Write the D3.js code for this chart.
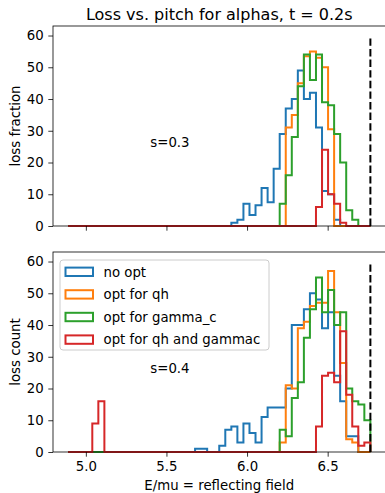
<!DOCTYPE html>
<html>
<head>
<meta charset="utf-8">
<script src="https://cdn.jsdelivr.net/npm/d3@7"></script>
<style>
body { margin: 0; background: #fff; }
svg { display: block; font-family: "DejaVu Sans", sans-serif; }
.axis text { font-size: 13.3px; fill: #000; font-family: "DejaVu Sans", sans-serif; }
.axis path { display: none; }
.axis line { stroke: #000; stroke-width: 0.8; }
</style>
</head>
<body>
<script>
// bins shared by all histograms
const binStart = 4.89;
const binEnd = 6.765;
const nBins = 50;
const cutoff = 6.765;   // dashed line position
const cutoffTop = 60;

const seriesNames = ['no opt', 'opt for qh', 'opt for gamma_c', 'opt for qh and gammac'];
const colors = ['#1f77b4', '#ff7f0e', '#2ca02c', '#d62728'];

const xTicks = [5.0, 5.5, 6.0, 6.5];
const yTicks = [0, 10, 20, 30, 40, 50, 60];

// s = 0.3 (top panel), counts per bin
const top_noopt = [0,0,0,0,0,0,0,0,0,0, 0,0,0,0,0,0,0,0,0,0, 0,0,0,0,0,0,0,1,2,7,
    3.5,6.5,12,7.5,18,29,37,40,49,40, 42,31,11,10,2,0,0,0,0,0];
const top_qh = [0,0,0,0,0,0,0,0,0,0, 0,0,0,0,0,0,0,0,0,0, 0,0,0,0,0,0,0,0,0,0,
    0,0,0,0,0,0,31,35,45,53.5, 55,53,50,30.5,0,0,0,0,0,0];
const top_gamma = [0,0,0,0,0,0,0,0,0,0, 0,0,0,0,0,0,0,0,0,0, 0,0,0,0,0,0,0,0,0,0,
    0,0,0,0,0,7,16,28,44,54, 46,54,39,38,29,20,5,2,0,0];
const top_both = [0,0,0,0,0,0,0,0,0,0, 0,0,0,0,0,0,0,0,0,0, 0,0,0,0,0,0,0,0,0,0,
    0,0,0,0,0,0,0,0,0,0, 0,6,24,10,7,1,0,0,0,0];

// s = 0.4 (bottom panel)
const bot_noopt = [0,0,0,0,0,0,0,0,0,0, 0,0,0,0,0,0,0,0,0,0, 0,1,1,0,0,2,7,8,3,9,
    6,3,11,14,14,14,20,40,40,45, 50,48,39,44,24,16,5,5,0,0];
const bot_qh = [0,0,0,0,0,0,0,0,0,0, 0,0,0,0,0,0,0,0,0,0, 0,0,0,0,0,0,0,0,0,0,
    0,0,0,0,0,3,21,20,39,41, 46,47,47,57,44,28,4,3,0,0];
const bot_gamma = [0,0,0,0,0,0,0,0,0,0, 0,0,0,0,0,0,0,0,0,0, 0,0,0,0,0,0,0,0,0,0,
    0,0,0,0,0,7,5,17,22,36, 45,55,44,51,40,44,20,16,15,10];
const bot_both = [0,0,0,0,9,16,0,0,0,0, 0,0,0,0,0,0,0,0,0,0, 0,0,0,0,0,0,0,0,0,0,
    0,0,0,0,0,0,0,0,0,0, 0,8,24,25,22,38,18,8,2,3];

const panels = [
    {top: 26, bottom: 226, ylabel: 'loss fraction', note: 's=0.3', series: [top_noopt, top_qh, top_gamma, top_both], xlabels: false, legend: false},
    {top: 252, bottom: 452, ylabel: 'loss count', note: 's=0.4', series: [bot_noopt, bot_qh, bot_gamma, bot_both], xlabels: true, legend: true}
];

const width = 385, height = 493;
const left = 53, right = 385.5;

const edges = d3.range(nBins + 1).map(i => binStart + i * (binEnd - binStart) / nBins);
const span = binEnd - binStart;

const x = d3.scaleLinear()
    .domain([binStart - 0.05 * span, binEnd + 0.05 * span])
    .range([left, right]);

const svg = d3.select('body').append('svg')
    .attr('width', width)
    .attr('height', height);

function stepPoints(counts) {
    // outline of a step histogram: up at each edge, across the bin, down at the end
    const pts = [[edges[0], 0]];
    counts.forEach((c, i) => pts.push([edges[i], c]));
    pts.push([edges[nBins], counts[nBins - 1]]);
    pts.push([edges[nBins], 0]);
    return pts;
}

panels.forEach(function(p) {
    const y = d3.scaleLinear().domain([0, cutoffTop * 1.05]).range([p.bottom, p.top]);
    const g = svg.append('g');

    const line = d3.line()
        .x(d => x(d[0]))
        .y(d => y(d[1]))
        .curve(d3.curveStepAfter);

    g.selectAll('path.hist')
        .data(p.series)
        .enter().append('path')
        .attr('class', 'hist')
        .attr('d', d => line(stepPoints(d)))
        .attr('fill', 'none')
        .attr('stroke', (d, i) => colors[i])
        .attr('stroke-width', 2)
        .attr('stroke-linejoin', 'miter');

    g.append('line')
        .attr('x1', x(cutoff)).attr('x2', x(cutoff))
        .attr('y1', y(0)).attr('y2', y(cutoffTop))
        .attr('stroke', '#000')
        .attr('stroke-width', 2)
        .attr('stroke-dasharray', '7.4,3.2');

    // frame
    g.append('rect')
        .attr('x', left).attr('y', p.top)
        .attr('width', right - left).attr('height', p.bottom - p.top)
        .attr('fill', 'none')
        .attr('stroke', '#000')
        .attr('stroke-width', 0.8);

    g.append('g')
        .attr('class', 'axis')
        .attr('transform', 'translate(0,' + p.bottom + ')')
        .call(d3.axisBottom(x).tickValues(xTicks).tickSize(4.7).tickPadding(4.7)
            .tickFormat(p.xlabels ? d3.format('.1f') : ''));

    g.append('g')
        .attr('class', 'axis')
        .attr('transform', 'translate(' + left + ',0)')
        .call(d3.axisLeft(y).tickValues(yTicks).tickSize(4.7).tickPadding(4.7).tickFormat(d3.format('d')));

    g.append('text')
        .attr('transform', 'translate(19.7,' + ((p.top + p.bottom) / 2) + ') rotate(-90)')
        .attr('text-anchor', 'middle')
        .attr('font-size', '13.3px')
        .text(p.ylabel);

    g.append('text')
        .attr('x', x(5.4))
        .attr('y', y(25))
        .attr('font-size', '13.3px')
        .text(p.note);

    if (p.legend) {
        const lg = g.append('g').attr('transform', 'translate(60,260)');
        lg.append('rect')
            .attr('width', 209).attr('height', 90)
            .attr('rx', 3)
            .attr('fill', '#fff').attr('fill-opacity', 0.8)
            .attr('stroke', '#ccc').attr('stroke-width', 1);
        const items = lg.selectAll('g.item')
            .data(seriesNames)
            .enter().append('g')
            .attr('class', 'item')
            .attr('transform', (d, i) => 'translate(0,' + (11.8 + i * 22.6) + ')');
        items.append('rect')
            .attr('x', 5.5).attr('y', -4.2)
            .attr('width', 27.5).attr('height', 8.4)
            .attr('fill', 'none')
            .attr('stroke', (d, i) => colors[i])
            .attr('stroke-width', 2);
        items.append('text')
            .attr('x', 43.5)
            .attr('dy', '0.36em')
            .attr('font-size', '13.3px')
            .text(d => d);
    }
});

svg.append('text')
    .attr('x', (left + right) / 2)
    .attr('y', 19.5)
    .attr('text-anchor', 'middle')
    .attr('font-size', '16px')
    .text('Loss vs. pitch for alphas, t = 0.2s');

svg.append('text')
    .attr('x', (left + right) / 2)
    .attr('y', 489.5)
    .attr('text-anchor', 'middle')
    .attr('font-size', '13.3px')
    .text('E/mu = reflecting field');
</script>
</body>
</html>
